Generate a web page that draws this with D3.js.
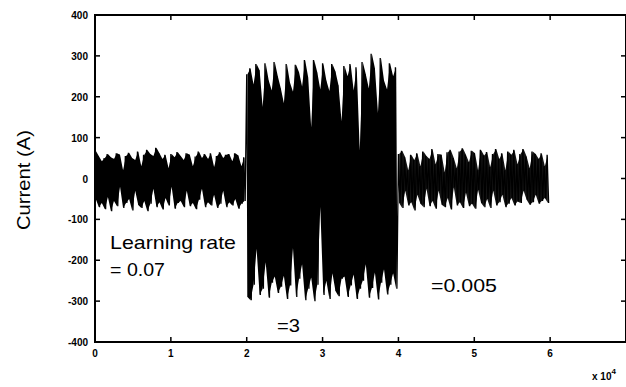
<!DOCTYPE html>
<html>
<head>
<meta charset="utf-8">
<script src="https://cdn.jsdelivr.net/npm/d3@7.9.0/dist/d3.min.js"></script>
<style>
  html, body { margin: 0; padding: 0; background: #fff; }
  svg { display: block; font-family: Arial, "Liberation Sans", sans-serif; }
</style>
</head>
<body>
<svg id="chart" width="626" height="387"></svg>
<script>
// tick labels
const xTicks = [0, 1, 2, 3, 4, 5, 6, 7];
const yTicks = [400, 300, 200, 100, 0, -100, -200, -300, -400];

// segment start times (x 10^4) and sample step
const segStarts = [0, 2, 4];
const step = 0.04;

// envelope peaks (upper / lower), one pair per step
const hi0 = [68,55,42,50,60,52,48,62,58,20,55,63,50,45,66,30,58,70,60,55,75,62,48,58,25,60,52,65,55,45,62,58,30,54,66,50,60,48,62,28,55,64,50,58,60,42,62,56,30,52];
const lo0 = [-50,-70,-60,-75,-45,-80,-55,-68,-20,-72,-60,-50,-78,-30,-65,-72,-55,-80,-62,-25,-70,-58,-76,-48,-66,-20,-74,-60,-55,-70,-30,-68,-60,-75,-52,-25,-70,-58,-66,-40,-72,-62,-30,-70,-58,-66,-50,-74,-62,-55];
const hi1 = [255,270,230,280,265,175,282,240,215,285,250,220,184,280,235,212,278,260,225,290,248,125,290,260,218,282,240,214,280,262,228,140,275,250,280,215,272,68,285,255,220,305,270,160,295,240,218,282,250,272];
const lo1 = [-290,-298,-260,-172,-285,-270,-205,-292,-255,-240,-280,-265,-238,-295,-262,-170,-290,-245,-210,-298,-270,-242,-300,-260,-70,-285,-250,-295,-232,-275,-288,-245,-240,-290,-262,-235,-295,-270,-250,-210,-292,-268,-230,-296,-255,-222,-284,-260,-232,-270];
const hi2 = [60,68,52,20,58,45,62,30,66,55,48,72,35,60,58,15,64,70,50,25,66,74,58,40,68,62,20,70,56,65,28,60,72,48,62,20,66,58,70,35,60,72,54,25,66,60,48,62,30,58];
const lo2 = [-60,-72,-30,-66,-58,-78,-40,-62,-70,-25,-68,-55,-74,-30,-64,-70,-48,-76,-22,-66,-58,-72,-35,-68,-62,-74,-28,-60,-70,-50,-72,-30,-66,-58,-40,-70,-62,-48,-66,-56,-60,-30,-52,-64,-58,-40,-62,-55,-48,-60];

const segments = [[hi0, lo0], [hi1, lo1], [hi2, lo2]];
const segColors = ['#000', '#000', '#151515'];

const svg = d3.select('#chart');
const x = d3.scaleLinear().domain([0, 7]).range([95, 626]);
const y = d3.scaleLinear().domain([-400, 400]).range([342, 15]);

// dense signal: filled envelope + zig-zag between upper and lower peaks
const area = d3.area()
  .x(d => x(d.t))
  .y0(d => y(d.lo))
  .y1(d => y(d.hi));
const line = d3.line().x(d => x(d[0])).y(d => y(d[1]));

let points = [];
segments.forEach(([hi, lo], s) => {
  let env = hi.map((v, i) => ({ t: segStarts[s] + i * step + step / 4, hi: v, lo: lo[i] }));
  svg.append('path')
    .datum(env)
    .attr('d', area)
    .attr('fill', segColors[s]);
  hi.forEach((v, i) => {
    let t = segStarts[s] + i * step;
    points.push([t, v]);
    points.push([t + step / 2, lo[i]]);
  });
});

svg.append('path')
  .datum(points)
  .attr('d', line)
  .attr('fill', 'none')
  .attr('stroke', '#000')
  .attr('stroke-width', 1.3);

// frame
svg.append('rect')
  .attr('x', x(0)).attr('y', y(400))
  .attr('width', x(7) - x(0)).attr('height', y(-400) - y(400))
  .attr('fill', 'none').attr('stroke', '#000').attr('stroke-width', 2);

// inward ticks
const tickLen = 5;
xTicks.forEach(t => {
  svg.append('line').attr('x1', x(t)).attr('x2', x(t))
    .attr('y1', y(-400)).attr('y2', y(-400) - tickLen)
    .attr('stroke', '#000').attr('stroke-width', 1.5);
  svg.append('line').attr('x1', x(t)).attr('x2', x(t))
    .attr('y1', y(400)).attr('y2', y(400) + tickLen)
    .attr('stroke', '#000').attr('stroke-width', 1.5);
});
yTicks.forEach(t => {
  svg.append('line').attr('x1', x(0)).attr('x2', x(0) + tickLen)
    .attr('y1', y(t)).attr('y2', y(t))
    .attr('stroke', '#000').attr('stroke-width', 1.5);
  svg.append('line').attr('x1', x(7)).attr('x2', x(7) - tickLen)
    .attr('y1', y(t)).attr('y2', y(t))
    .attr('stroke', '#000').attr('stroke-width', 1.5);
});

// tick labels
svg.selectAll('.ylab').data(yTicks).enter().append('text')
  .attr('x', 88).attr('y', d => y(d) + 4)
  .attr('text-anchor', 'end')
  .attr('font-size', 10).attr('font-weight', 'bold')
  .text(d => d);
svg.selectAll('.xlab').data(xTicks.slice(0, 7)).enter().append('text')
  .attr('x', d => x(d)).attr('y', 357)
  .attr('text-anchor', 'middle')
  .attr('font-size', 10).attr('font-weight', 'bold')
  .text(d => d);

// exponent
const ex = svg.append('text').attr('x', 592).attr('y', 380)
  .attr('font-size', 10).attr('font-weight', 'bold');
ex.append('tspan').text('x 10');
ex.append('tspan').attr('dy', -6).attr('font-size', 8).text('4');

// y axis title
svg.append('text')
  .attr('transform', 'translate(30,180) rotate(-90)')
  .attr('text-anchor', 'middle')
  .attr('font-size', 18)
  .attr('textLength', 100).attr('lengthAdjust', 'spacingAndGlyphs')
  .text('Current (A)');

// annotations
const notes = [
  { text: 'Learning rate', x: 110, y: 249, w: 126 },
  { text: '= 0.07', x: 110, y: 276, w: 55 },
  { text: '=3', x: 277, y: 332, w: 23 },
  { text: '=0.005', x: 431, y: 292, w: 66 }
];
notes.forEach(n => {
  svg.append('text')
    .attr('x', n.x).attr('y', n.y)
    .attr('font-size', 19)
    .attr('textLength', n.w).attr('lengthAdjust', 'spacingAndGlyphs')
    .text(n.text);
});
</script>
</body>
</html>
